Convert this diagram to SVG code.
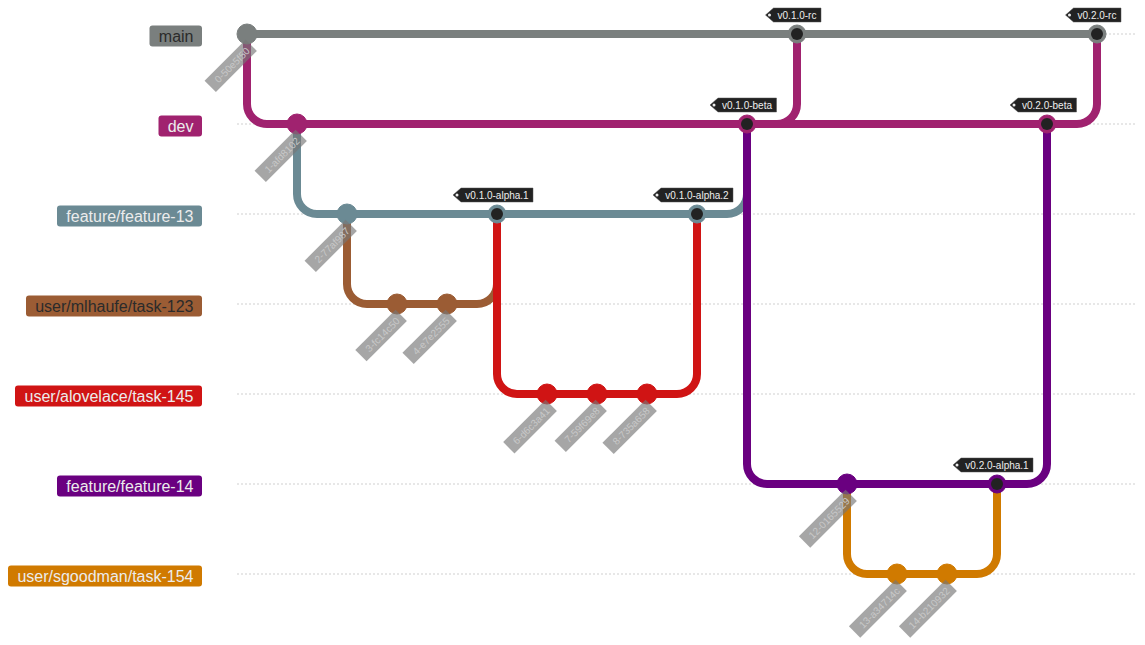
<svg xmlns="http://www.w3.org/2000/svg" width="1145" height="645" viewBox="0 0 1145 645">
<style>
.bl{stroke:#cfcfcf;stroke-width:1;stroke-dasharray:2 2;}
.a{fill:none;stroke-width:8;stroke-linecap:butt;}
.b0{stroke:#7a7f7e;fill:#7a7f7e}
.b1{stroke:#a0226f;fill:#a0226f}
.b2{stroke:#6b8a94;fill:#6b8a94}
.b3{stroke:#9b5c34;fill:#9b5c34}
.b4{stroke:#d01414;fill:#d01414}
.b5{stroke:#6a0080;fill:#6a0080}
.b6{stroke:#d07a00;fill:#d07a00}
.a.b0,.a.b1,.a.b2,.a.b3,.a.b4,.a.b5,.a.b6{fill:none}
.mi{fill:#222;}
.cl rect{fill:#777;opacity:0.65;}
.cl text{font-family:"Liberation Sans",Arial,sans-serif;font-size:10px;fill:#c8c8c8;text-anchor:end;}
.tg polygon{fill:#222;stroke:#555;stroke-width:0.5;}
.tg circle{fill:#eee;}
.tg text{font-family:"Liberation Sans",Arial,sans-serif;font-size:10px;fill:#eee;text-anchor:middle;}
.lb rect{stroke:none;}
.lb text{font-family:"Liberation Sans",Arial,sans-serif;font-size:16px;text-anchor:end;}
.dk{fill:#2b2b2b}
.lt{fill:#ececec}
</style>
<g id="branch-lines">
<line class="bl" x1="237" y1="34" x2="1135" y2="34"/>
<line class="bl" x1="237" y1="124" x2="1135" y2="124"/>
<line class="bl" x1="237" y1="214" x2="1135" y2="214"/>
<line class="bl" x1="237" y1="304" x2="1135" y2="304"/>
<line class="bl" x1="237" y1="394" x2="1135" y2="394"/>
<line class="bl" x1="237" y1="484" x2="1135" y2="484"/>
<line class="bl" x1="237" y1="574" x2="1135" y2="574"/>
</g>
<g id="connectors">
<path class="a b1" d="M247,34 L247,104 A20,20 0 0 0 267,124 L297,124"/>
<path class="a b2" d="M297,124 L297,194 A20,20 0 0 0 317,214 L347,214"/>
<path class="a b3" d="M347,214 L347,284 A20,20 0 0 0 367,304 L397,304"/>
<path class="a b3" d="M397,304 L447,304"/>
<path class="a b2" d="M347,214 L497,214"/>
<path class="a b3" d="M447,304 L477,304 A20,20 0 0 0 497,284 L497,214"/>
<path class="a b4" d="M497,214 L497,374 A20,20 0 0 0 517,394 L547,394"/>
<path class="a b4" d="M547,394 L647,394"/>
<path class="a b2" d="M497,214 L697,214"/>
<path class="a b4" d="M647,394 L677,394 A20,20 0 0 0 697,374 L697,214"/>
<path class="a b1" d="M297,124 L747,124"/>
<path class="a b2" d="M697,214 L727,214 A20,20 0 0 0 747,194 L747,124"/>
<path class="a b0" d="M247,34 L797,34"/>
<path class="a b1" d="M747,124 L777,124 A20,20 0 0 0 797,104 L797,34"/>
<path class="a b5" d="M747,124 L747,464 A20,20 0 0 0 767,484 L847,484"/>
<path class="a b6" d="M847,484 L847,554 A20,20 0 0 0 867,574 L897,574"/>
<path class="a b6" d="M897,574 L947,574"/>
<path class="a b5" d="M847,484 L997,484"/>
<path class="a b6" d="M947,574 L977,574 A20,20 0 0 0 997,554 L997,484"/>
<path class="a b1" d="M747,124 L1047,124"/>
<path class="a b5" d="M997,484 L1027,484 A20,20 0 0 0 1047,464 L1047,124"/>
<path class="a b0" d="M797,34 L1097,34"/>
<path class="a b1" d="M1047,124 L1077,124 A20,20 0 0 0 1097,104 L1097,34"/>
</g>
<g id="commits">
<g id="c0"><circle class="b0" cx="247" cy="34" r="10" stroke="none"/></g>
<g id="c1"><circle class="b1" cx="297" cy="124" r="10" stroke="none"/></g>
<g id="c2"><circle class="b2" cx="347" cy="214" r="10" stroke="none"/></g>
<g id="c3"><circle class="b3" cx="397" cy="304" r="10" stroke="none"/></g>
<g id="c4"><circle class="b3" cx="447" cy="304" r="10" stroke="none"/></g>
<g id="c5"><circle class="b2" cx="497" cy="214" r="9" stroke="none"/><circle class="mi" cx="497" cy="214" r="6"/></g>
<g id="c6"><circle class="b4" cx="547" cy="394" r="10" stroke="none"/></g>
<g id="c7"><circle class="b4" cx="597" cy="394" r="10" stroke="none"/></g>
<g id="c8"><circle class="b4" cx="647" cy="394" r="10" stroke="none"/></g>
<g id="c9"><circle class="b2" cx="697" cy="214" r="9" stroke="none"/><circle class="mi" cx="697" cy="214" r="6"/></g>
<g id="c10"><circle class="b1" cx="747" cy="124" r="9" stroke="none"/><circle class="mi" cx="747" cy="124" r="6"/></g>
<g id="c11"><circle class="b0" cx="797" cy="34" r="9" stroke="none"/><circle class="mi" cx="797" cy="34" r="6"/></g>
<g id="c12"><circle class="b5" cx="847" cy="484" r="10" stroke="none"/></g>
<g id="c13"><circle class="b6" cx="897" cy="574" r="10" stroke="none"/></g>
<g id="c14"><circle class="b6" cx="947" cy="574" r="10" stroke="none"/></g>
<g id="c15"><circle class="b5" cx="997" cy="484" r="9" stroke="none"/><circle class="mi" cx="997" cy="484" r="6"/></g>
<g id="c16"><circle class="b1" cx="1047" cy="124" r="9" stroke="none"/><circle class="mi" cx="1047" cy="124" r="6"/></g>
<g id="c17"><circle class="b0" cx="1097" cy="34" r="9" stroke="none"/><circle class="mi" cx="1097" cy="34" r="6"/></g>
</g>
<g id="commit-labels">
<g class="cl" transform="translate(247,34) rotate(-45)"><rect x="-63" y="3" width="58" height="16"/><text x="-10" y="15">0-50e5f50</text></g>
<g class="cl" transform="translate(297,124) rotate(-45)"><rect x="-63" y="3" width="58" height="16"/><text x="-10" y="15">1-afd8102</text></g>
<g class="cl" transform="translate(347,214) rotate(-45)"><rect x="-63" y="3" width="58" height="16"/><text x="-10" y="15">2-77af987</text></g>
<g class="cl" transform="translate(397,304) rotate(-45)"><rect x="-62" y="3" width="57" height="16"/><text x="-10" y="15">3-fc14c50</text></g>
<g class="cl" transform="translate(447,304) rotate(-45)"><rect x="-66" y="3" width="61" height="16"/><text x="-10" y="15">4-e7e2555</text></g>
<g class="cl" transform="translate(547,394) rotate(-45)"><rect x="-65" y="3" width="60" height="16"/><text x="-10" y="15">6-d6c3a41</text></g>
<g class="cl" transform="translate(597,394) rotate(-45)"><rect x="-63" y="3" width="58" height="16"/><text x="-10" y="15">7-59f69e8</text></g>
<g class="cl" transform="translate(647,394) rotate(-45)"><rect x="-66" y="3" width="61" height="16"/><text x="-10" y="15">8-735a658</text></g>
<g class="cl" transform="translate(847,484) rotate(-45)"><rect x="-71" y="3" width="66" height="16"/><text x="-10" y="15">12-0165529</text></g>
<g class="cl" transform="translate(897,574) rotate(-45)"><rect x="-71" y="3" width="66" height="16"/><text x="-10" y="15">13-a34714c</text></g>
<g class="cl" transform="translate(947,574) rotate(-45)"><rect x="-71" y="3" width="66" height="16"/><text x="-10" y="15">14-b210932</text></g>
</g>
<g id="tags">
<g class="tg" id="tag-v010-rc"><polygon points="765.5,15 773.5,8 821,8 821,22 773.5,22"/><circle cx="769.5" cy="15" r="1.5"/><text x="797" y="19">v0.1.0-rc</text></g>
<g class="tg" id="tag-v020-rc"><polygon points="1065.5,15 1073.5,8 1121,8 1121,22 1073.5,22"/><circle cx="1069.5" cy="15" r="1.5"/><text x="1097" y="19">v0.2.0-rc</text></g>
<g class="tg" id="tag-v010-beta"><polygon points="710,105 718,98 776.5,98 776.5,112 718,112"/><circle cx="714" cy="105" r="1.5"/><text x="747" y="109">v0.1.0-beta</text></g>
<g class="tg" id="tag-v020-beta"><polygon points="1010,105 1018,98 1076.5,98 1076.5,112 1018,112"/><circle cx="1014" cy="105" r="1.5"/><text x="1047" y="109">v0.2.0-beta</text></g>
<g class="tg" id="tag-v010-alpha1"><polygon points="453,195 461,188 533,188 533,202 461,202"/><circle cx="457" cy="195" r="1.5"/><text x="497" y="199">v0.1.0-alpha.1</text></g>
<g class="tg" id="tag-v010-alpha2"><polygon points="653,195 661,188 733,188 733,202 661,202"/><circle cx="657" cy="195" r="1.5"/><text x="697" y="199">v0.1.0-alpha.2</text></g>
<g class="tg" id="tag-v020-alpha1"><polygon points="953,465 961,458 1033,458 1033,472 961,472"/><circle cx="957" cy="465" r="1.5"/><text x="997" y="469">v0.2.0-alpha.1</text></g>
</g>
<g id="branch-labels">
<g class="lb" id="lb-main"><rect class="b0" x="149.5" y="25.5" width="52.5" height="21" rx="3"/><text class="dk" x="193.5" y="41.5">main</text></g>
<g class="lb" id="lb-dev"><rect class="b1" x="158.5" y="115.5" width="43.5" height="21" rx="3"/><text class="lt" x="193.5" y="131.5">dev</text></g>
<g class="lb" id="lb-f13"><rect class="b2" x="57" y="205.5" width="145" height="21" rx="3"/><text class="lt" x="193.5" y="221.5">feature/feature-13</text></g>
<g class="lb" id="lb-mlhaufe"><rect class="b3" x="26" y="295.5" width="176" height="21" rx="3"/><text class="dk" x="193.5" y="311.5">user/mlhaufe/task-123</text></g>
<g class="lb" id="lb-alovelace"><rect class="b4" x="15" y="385.5" width="187" height="21" rx="3"/><text class="lt" x="193.5" y="401.5">user/alovelace/task-145</text></g>
<g class="lb" id="lb-f14"><rect class="b5" x="57" y="475.5" width="145" height="21" rx="3"/><text class="lt" x="193.5" y="491.5">feature/feature-14</text></g>
<g class="lb" id="lb-sgoodman"><rect class="b6" x="8" y="565.5" width="194" height="21" rx="3"/><text class="lt" x="193.5" y="581.5">user/sgoodman/task-154</text></g>
</g>
</svg>
